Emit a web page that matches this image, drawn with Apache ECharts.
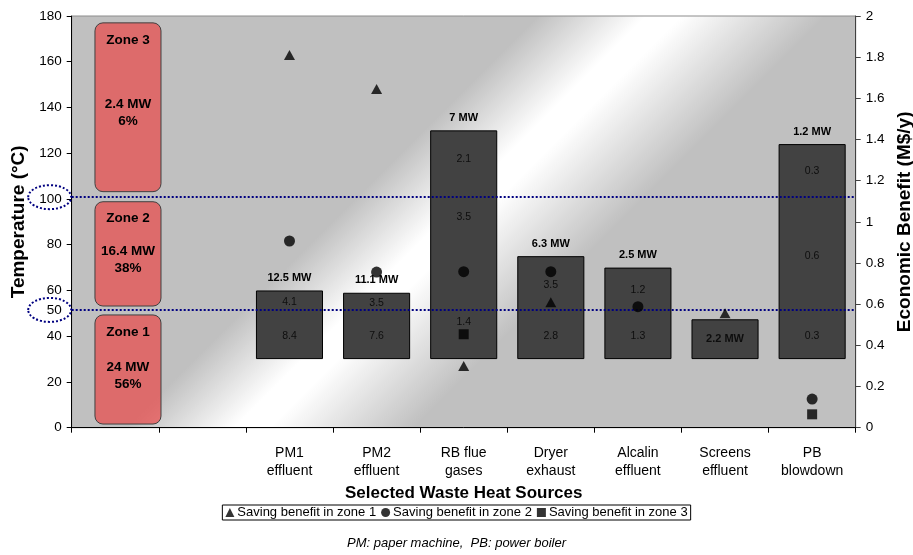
<!DOCTYPE html>
<html><head><meta charset="utf-8">
<script src="https://cdn.jsdelivr.net/npm/echarts@6/dist/echarts.min.js"></script>
<style>html,body{margin:0;padding:0;background:#fff}#c{width:913px;height:555px}</style>
</head><body><div id="c"></div>
<script>
// ---------- data ----------
const categories = ['', '', 'PM1\neffluent', 'PM2\neffluent', 'RB flue\ngases', 'Dryer\nexhaust', 'Alcalin\neffluent', 'Screens\neffluent', 'PB\nblowdown'];
const firstSource = 2;                       // index of first heat-source category
const barBottom = [30, 30, 30, 30, 30, 30, 30];          // °C
const barTop = [60, 59, 130, 75, 70, 47.4, 124];         // °C
const totalMW = [12.5, 11.1, 7, 6.3, 2.5, 2.2, 1.2];
const zone1MW = [8.4, 7.6, 1.4, 2.8, 1.3, 2.2, 0.3];
const zone2MW = [4.1, 3.5, 3.5, 3.5, 1.2, null, 0.6];
const zone3MW = [null, null, 2.1, null, null, null, 0.3];
const benefitZone1 = [1.81, 1.645, 0.30, 0.61, null, 0.556, null];   // M$/y
const benefitZone2 = [0.907, 0.756, 0.758, 0.758, 0.588, null, 0.139];
const benefitZone3 = [null, null, 0.454, null, null, null, 0.065];
const zoneThresholds = [50, 100];            // °C, zone limits
const zoneLinesDrawn = [51.5, 100.8];        // dotted guide lines as drawn
const zoneNames = ['Zone 1', 'Zone 2', 'Zone 3'];
const zoneMW = ['24 MW', '16.4 MW', '2.4 MW'];
const zoneShare = ['56%', '38%', '6%'];
const zoneLow = [1.6, 53.2, 103.2];
const zoneHigh = [49.3, 98.8, 177];
const seriesNames = ['Saving benefit in zone 1', 'Saving benefit in zone 2', 'Saving benefit in zone 3'];

// ---------- build ----------
const FONT = '"Liberation Sans", Arial, sans-serif';
const chart = echarts.init(document.getElementById('c'), null, {renderer: 'canvas'});
const pad = (arr) => [null, null].concat(arr.map(v => v));
const catIdx = (i) => i + firstSource;

// segment labels (MW per zone inside each bar)
const labelShift = {'2-3': [0, -6], '2-2': [0, -39], '2-1': [0, -14]};
const segLabels = [];
barTop.forEach((top, i) => {
  const bottom = barBottom[i];
  const single = zone2MW[i] == null && zone3MW[i] == null;
  const segs = [
    [bottom, Math.min(top, zoneThresholds[0]), zone1MW[i], 1],
    [zoneThresholds[0], Math.min(top, zoneThresholds[1]), zone2MW[i], 2],
    [zoneThresholds[1], top, zone3MW[i], 3]
  ];
  segs.forEach(([lo, hi, v, z]) => {
    if (v == null || hi <= lo) return;
    const item = {
      value: [catIdx(i), (lo + hi) / 2],
      label: {formatter: single ? v + ' MW' : String(v)}
    };
    if (single) { item.label.fontWeight = 'bold'; item.label.fontSize = 11; }
    const sh = labelShift[i + '-' + z];
    if (sh) item.label.offset = sh;
    segLabels.push(item);
  });
});

const grad = new echarts.graphic.LinearGradient(0, 0, 0.7626, 1.452, [
  {offset: 0, color: '#c0c0c0'},
  {offset: 0.39, color: '#c0c0c0'},
  {offset: 0.48, color: '#ffffff'},
  {offset: 0.51, color: '#ffffff'},
  {offset: 0.63, color: '#c0c0c0'},
  {offset: 1, color: '#c0c0c0'}
]);

const option = {
  animation: false,
  textStyle: {fontFamily: FONT},
  grid: {left: 71.7, right: 57.3, top: 16, bottom: 127.3, show: true, backgroundColor: grad,
         borderColor: '#8c8c8c', borderWidth: 1, outerBoundsMode: 'none', containLabel: false},
  title: {text: 'PM: paper machine,  PB: power boiler', left: 'center', top: 532,
          textStyle: {fontStyle: 'italic', fontWeight: 'normal', fontSize: 13, color: '#000', fontFamily: FONT}},
  legend: {
    top: 505, left: 'center', orient: 'horizontal',
    borderColor: '#000', borderWidth: 1, padding: [1, 3], itemGap: 5, itemWidth: 9, itemHeight: 9,
    textStyle: {fontSize: 13, color: '#000', fontFamily: FONT, padding: [0, 0, 0, -2]},
    data: [{name: seriesNames[0], icon: 'triangle'}, {name: seriesNames[1], icon: 'circle'}, {name: seriesNames[2], icon: 'rect'}]
  },
  xAxis: {
    type: 'category', data: categories, boundaryGap: true,
    axisLine: {lineStyle: {color: '#000', width: 1}},
    axisTick: {show: true, length: 5, lineStyle: {color: '#000'}, interval: 0},
    axisLabel: {interval: 0, color: '#000', fontSize: 14, lineHeight: 18, margin: 16, fontFamily: FONT},
    name: 'Selected Waste Heat Sources', nameLocation: 'middle', nameGap: 57,
    nameTextStyle: {fontWeight: 'bold', fontSize: 17, color: '#000', fontFamily: FONT}
  },
  yAxis: [{
    type: 'value', min: 0, max: 180, interval: 20,
    axisLine: {show: true, lineStyle: {color: '#000'}},
    axisTick: {show: true, length: 5, lineStyle: {color: '#000'}},
    axisLabel: {color: '#000', fontSize: 13.5, margin: 10, fontFamily: FONT},
    splitLine: {show: false},
    name: 'Temperature (°C)', nameLocation: 'middle', nameRotate: 90, nameGap: 42,
    nameTextStyle: {fontWeight: 'bold', fontSize: 19, color: '#000', fontFamily: FONT}
  }, {
    type: 'value', min: 0, max: 2, interval: 0.2, position: 'right',
    axisLine: {show: true, lineStyle: {color: '#404040'}},
    axisTick: {show: true, length: 5, lineStyle: {color: '#404040'}},
    axisLabel: {color: '#000', fontSize: 13.5, margin: 10, fontFamily: FONT},
    splitLine: {show: false},
    name: 'Economic Benefit (M$/y)', nameLocation: 'middle', nameRotate: 90, nameGap: 35,
    nameTextStyle: {fontWeight: 'bold', fontSize: 19, color: '#000', fontFamily: FONT, verticalAlign: 'top'}
  }],
  series: [
    {
      type: 'custom', name: 'zones', z: 3, silent: true,
      data: zoneLow.map((lo, i) => [0, lo, zoneHigh[i]]),
      encode: {x: 0, y: [1, 2]},
      renderItem: function (params, api) {
        const i = params.dataIndex;
        const pLo = api.coord([api.value(0), api.value(1)]);
        const pHi = api.coord([api.value(0), api.value(2)]);
        const band = api.size([1, 0])[0];
        const cx = pLo[0] + band * 0.146, w = band * 0.758;
        const y = pHi[1], h = pLo[1] - pHi[1];
        return {type: 'group', children: [
          {type: 'rect', shape: {x: cx - w / 2, y: y, width: w, height: h, r: 8},
           style: {fill: 'rgba(240,50,50,0.6)', stroke: '#404040', lineWidth: 1}},
          {type: 'text', x: cx, y: y + 17, style: {text: zoneNames[i], fill: '#000', fontSize: 13.5, fontWeight: 'bold',
            fontFamily: FONT, align: 'center', verticalAlign: 'middle'}},
          {type: 'text', x: cx, y: y + h / 2 + 6, style: {text: zoneMW[i] + '\n' + zoneShare[i], fill: '#000', fontSize: 13.5,
            fontWeight: 'bold', lineHeight: 17, fontFamily: FONT, align: 'center', verticalAlign: 'middle'}}
        ]};
      }
    },
    {
      type: 'bar', name: 'base', stack: 'b', silent: true, barWidth: '77%',
      itemStyle: {color: 'transparent'}, data: pad(barBottom)
    },
    {
      type: 'bar', name: 'heat', stack: 'b', silent: true, barWidth: '77%', z: 4,
      itemStyle: {color: '#424242', borderColor: '#000', borderWidth: 1},
      label: {show: true, position: 'top', distance: 7, fontSize: 11, fontWeight: 'bold', color: '#000', fontFamily: FONT,
        formatter: (p) => {
          const i = p.dataIndex - firstSource;
          if (zone2MW[i] == null && zone3MW[i] == null) return '';
          return totalMW[i] + ' MW';
        }},
      data: pad(barTop.map((t, i) => t - barBottom[i]))
    },
    {
      type: 'scatter', name: 'segLabels', silent: true, symbolSize: 0, z: 5,
      label: {show: true, position: 'inside', fontSize: 10.5, color: '#000', fontFamily: FONT},
      data: segLabels,
      markLine: {
        silent: true, symbol: 'none', z: 6,
        lineStyle: {color: '#000080', type: [2, 2], width: 2},
        data: [
          {yAxis: zoneLinesDrawn[0], label: {show: true, formatter: '50', position: 'start', distance: 10,
            color: '#000', fontSize: 13.5, fontFamily: FONT}},
          {yAxis: zoneLinesDrawn[1], label: {show: false}}
        ]
      }
    },
    {type: 'scatter', name: seriesNames[0], yAxisIndex: 1, symbol: 'triangle', symbolSize: [11, 10], z: 7,
     itemStyle: {color: '#000'}, data: benefitZone1.map((v, i) => v == null ? null : [catIdx(i), v]).filter(d => d)},
    {type: 'scatter', name: seriesNames[1], yAxisIndex: 1, symbol: 'circle', symbolSize: 11, z: 7,
     itemStyle: {color: '#000'}, data: benefitZone2.map((v, i) => v == null ? null : [catIdx(i), v]).filter(d => d)},
    {type: 'scatter', name: seriesNames[2], yAxisIndex: 1, symbol: 'rect', symbolSize: 10, z: 7,
     itemStyle: {color: '#000'}, data: benefitZone3.map((v, i) => v == null ? null : [catIdx(i), v]).filter(d => d)}
  ]
};
chart.setOption(option);

// dotted ellipses around the "50" and "100" marks
const gridLeft = 71.7;
chart.setOption({graphic: zoneLinesDrawn.map(v => {
  const y = chart.convertToPixel({yAxisIndex: 0}, v);
  return {type: 'ellipse', silent: true, z: 10,
    shape: {cx: gridLeft - 22, cy: y, rx: 21.5, ry: 12},
    style: {fill: 'none', stroke: '#000080', lineWidth: 2, lineDash: [2, 2]}};
})});
</script></body></html>
